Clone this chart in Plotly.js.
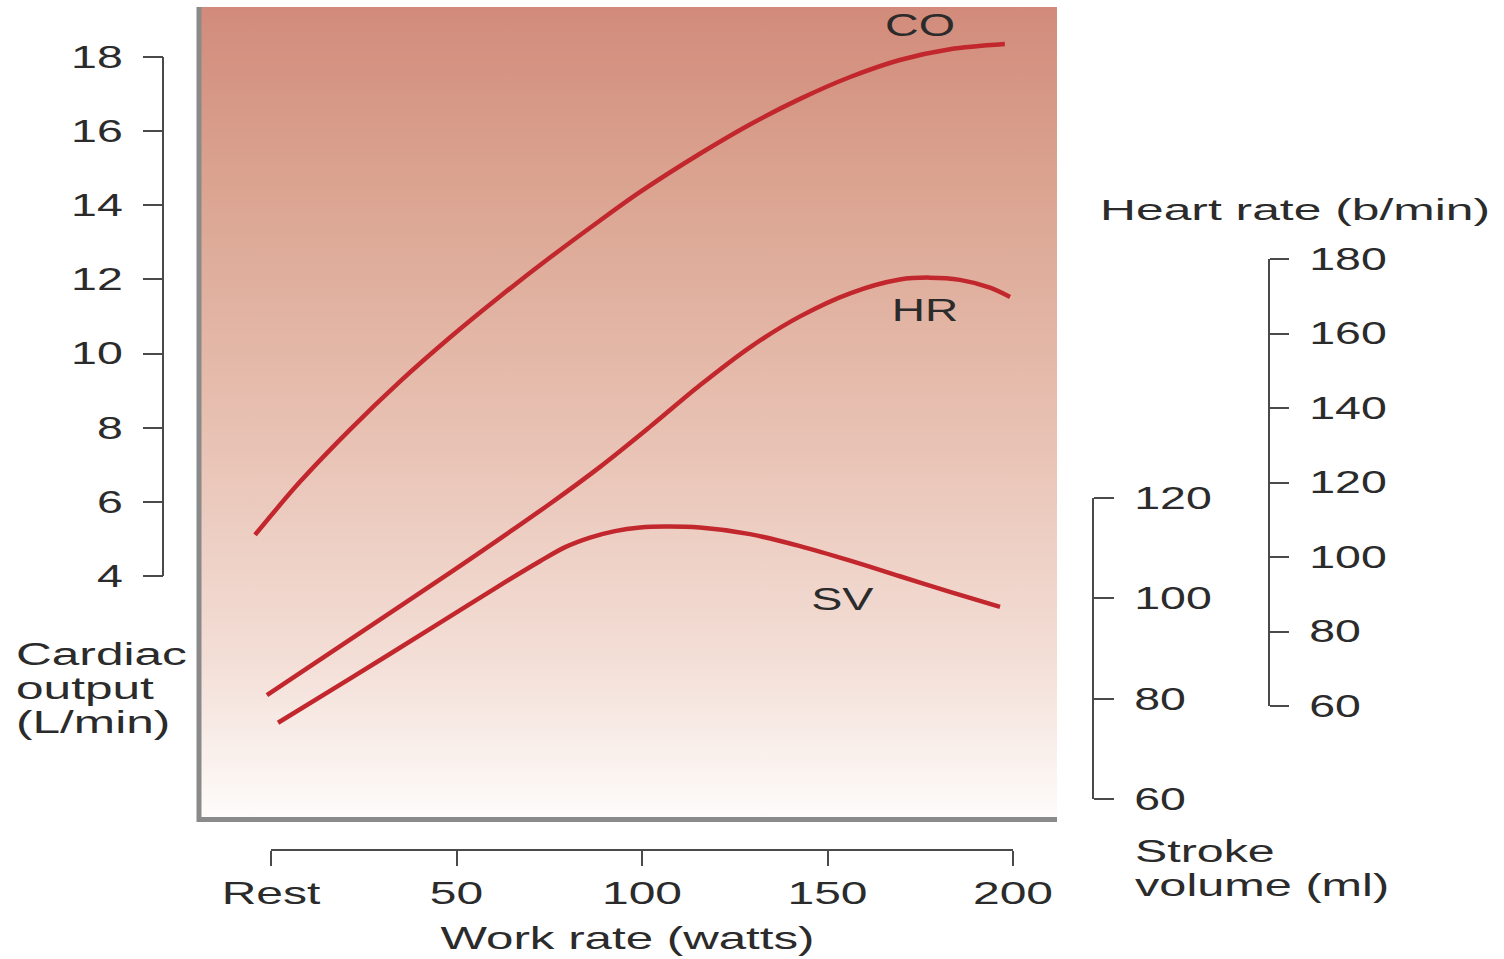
<!DOCTYPE html>
<html>
<head>
<meta charset="utf-8">
<script src="https://cdn.plot.ly/plotly-3.0.1.min.js"></script>
<style>
  html, body { margin: 0; padding: 0; background: #ffffff; }
  #chart { width: 1504px; height: 959px; }
</style>
</head>
<body>
<div id="chart"></div>
<script>
// ---------------- data ----------------
const workTicks  = [0, 50, 100, 150, 200];
const workLabels = ['Rest', '50', '100', '150', '200'];

const coTicks = [4, 6, 8, 10, 12, 14, 16, 18];
const svTicks = [60, 80, 100, 120];
const hrTicks = [60, 80, 100, 120, 140, 160, 180];

// Cardiac output (L/min) vs work rate (watts)
const coWatts  = [-4.3, 7.8, 21.3, 34.8, 48.3, 61.7, 75.2, 88.7, 99.5, 115.6, 129.1, 142.6, 156.1, 169.5, 183.0, 197.8];
const coValues = [5.11, 6.54, 7.95, 9.25, 10.44, 11.54, 12.59, 13.59, 14.36, 15.39, 16.18, 16.87, 17.46, 17.92, 18.21, 18.35];

// Heart rate (b/min)
const hrWatts  = [-1.1, 21.3, 48.3, 75.2, 88.7, 102.2, 115.6, 129.1, 142.6, 156.1, 169.5, 177.6, 185.7, 193.8, 199.2];
const hrValues = [62.9, 77.8, 95.8, 114.3, 124.2, 135.0, 146.1, 156.3, 164.6, 170.8, 174.5, 175.0, 174.4, 172.3, 169.8];

// Stroke volume (ml)
const svWatts  = [1.9, 21.3, 42.9, 61.7, 72.5, 79.3, 86.0, 92.7, 99.5, 106.2, 115.6, 129.1, 142.6, 156.1, 169.5, 183.0, 196.5];
const svValues = [75.2, 84.0, 93.9, 102.6, 107.4, 110.2, 112.1, 113.4, 114.1, 114.3, 114.1, 112.8, 110.4, 107.5, 104.4, 101.3, 98.3];

// ---------------- geometry ----------------
const W = 1504, H = 959;
const L = 200, R = 1057, T = 7, B = 820;
const px = p => p / W;
const py = p => 1 - p / H;
function lin(v1, p1, v2, p2) { return p => v1 + (p - p1) * (v2 - v1) / (p2 - p1); }
const xAt  = lin(0, 271, 200, 1013);
const coAt = lin(18, 57, 4, 576);
const svAt = lin(120, 498, 60, 799);
const hrAt = lin(180, 259, 60, 706);
const xr  = [xAt(L), xAt(R)];
const coR = [coAt(B), coAt(T)];
const svR = [svAt(B), svAt(T)];
const hrR = [hrAt(B), hrAt(T)];

const FONT = 'Liberation Sans, Arial, Helvetica, sans-serif';
const TXT = '#2b2b2b';
const AX = '#4a4a4a';
const RED = '#c1272d';

const bg = {
  x: [xr[0], xr[1], xr[1], xr[0], xr[0]],
  y: [coR[0], coR[0], coR[1], coR[1], coR[0]],
  xaxis: 'x', yaxis: 'y',
  mode: 'lines', line: { width: 0 },
  fill: 'toself',
  fillgradient: {
    type: 'vertical',
    colorscale: [[0, '#fefcfb'], [0.2, '#f3ded6'], [0.5, '#e7bfb0'], [0.8, '#daa28f'], [1, '#d28b7b']]
  },
  hoverinfo: 'skip', showlegend: false
};

const lineStyle = { color: RED, width: 4.5, shape: 'spline', smoothing: 0.9 };
const coTrace = { x: coWatts, y: coValues, xaxis: 'x', yaxis: 'y',  mode: 'lines', line: lineStyle, name: 'CO', hoverinfo: 'skip' };
const svTrace = { x: svWatts, y: svValues, xaxis: 'x', yaxis: 'y2', mode: 'lines', line: lineStyle, name: 'SV', hoverinfo: 'skip' };
const hrTrace = { x: hrWatts, y: hrValues, xaxis: 'x', yaxis: 'y3', mode: 'lines', line: lineStyle, name: 'HR', hoverinfo: 'skip' };

const tickBase = {
  ticks: 'outside', tickwidth: 2, tickcolor: AX,
  showline: false, showgrid: false, zeroline: false, fixedrange: true,
  tickfont: { family: FONT, size: 31, color: TXT }
};

function ann(text, x, y, xanchor, size) {
  return {
    text: text, x: px(x), xref: 'paper', y: py(y), yref: 'paper', showarrow: false,
    xanchor: xanchor, align: xanchor === 'left' ? 'left' : 'center', yanchor: 'middle',
    font: { family: FONT, size: size, color: TXT }
  };
}

const layout = {
  width: W, height: H,
  margin: { l: 0, r: 0, t: 0, b: 0, pad: 0 },
  paper_bgcolor: '#ffffff', plot_bgcolor: 'rgba(0,0,0,0)',
  showlegend: false,
  font: { family: FONT, size: 31, color: TXT },
  xaxis: Object.assign({}, tickBase, {
    domain: [px(L), px(R)], range: xr, anchor: 'free', position: py(850),
    tickmode: 'array', tickvals: workTicks, ticktext: workLabels,
    ticklen: 15, tickangle: 0, ticklabelstandoff: 0,
    tickfont: { family: FONT, size: 32, color: TXT }
  }),
  yaxis: Object.assign({}, tickBase, {
    domain: [py(B), py(T)], range: coR, anchor: 'free', position: px(163), side: 'left',
    tickmode: 'array', tickvals: coTicks, ticklen: 20, ticklabelstandoff: 14
  }),
  yaxis2: Object.assign({}, tickBase, {
    domain: [py(B), py(T)], range: svR, overlaying: 'y', anchor: 'free', position: px(1093), side: 'right',
    tickmode: 'array', tickvals: svTicks, ticklen: 20, ticklabelstandoff: 14
  }),
  yaxis3: Object.assign({}, tickBase, {
    domain: [py(B), py(T)], range: hrR, overlaying: 'y', anchor: 'free', position: px(1269), side: 'right',
    tickmode: 'array', tickvals: hrTicks, ticklen: 19, ticklabelstandoff: 14
  }),
  shapes: [
    // frame of shaded panel
    { type: 'line', xref: 'paper', yref: 'paper', x0: px(199), x1: px(199), y0: py(T), y1: py(822), line: { color: '#8a8a8a', width: 5 } },
    { type: 'line', xref: 'paper', yref: 'paper', x0: px(197), x1: px(R), y0: py(819.5), y1: py(819.5), line: { color: '#8a8a8a', width: 5 } },
    // axis spines
    { type: 'line', xref: 'paper', yref: 'y',  x0: px(163), x1: px(163), y0: 4, y1: 18, line: { color: AX, width: 2 } },
    { type: 'line', xref: 'paper', yref: 'y2', x0: px(1093), x1: px(1093), y0: 60, y1: 120, line: { color: AX, width: 2 } },
    { type: 'line', xref: 'paper', yref: 'y3', x0: px(1269), x1: px(1269), y0: 60, y1: 180, line: { color: AX, width: 2 } },
    { type: 'line', xref: 'x', yref: 'paper', x0: 0, x1: 200, y0: py(850), y1: py(850), line: { color: AX, width: 2 } }
  ],
  annotations: [
    ann('CO', 920, 25, 'center', 32),
    ann('HR', 925, 310, 'center', 32),
    ann('SV', 842, 599, 'center', 32),
    ann('Cardiac', 14, 654, 'left', 31),
    ann('output', 14, 688, 'left', 31),
    ann('(L/min)', 14, 722, 'left', 31),
    ann('Heart rate (b/min)', 1098, 209, 'left', 30),
    ann('Stroke', 1133, 851, 'left', 31),
    ann('volume (ml)', 1133, 885, 'left', 31),
    ann('Work rate (watts)', 627, 938, 'center', 32)
  ]
};

// The reference lettering is horizontally wide; widen glyphs about their anchor point.
const annScale = [1.46, 1.44, 1.46, 1.6, 1.6, 1.6, 1.66, 1.56, 1.57, 1.54];
function widen(el, s) {
  const x = parseFloat(el.getAttribute('x')) || 0;
  const tr = el.getAttribute('transform') || '';
  el.setAttribute('transform', tr + ' translate(' + x + ',0) scale(' + s + ',1) translate(' + (-x) + ',0)');
}
function stretchText(gd) {
  gd.querySelectorAll('g.xtick text, g.ytick text, g.y2tick text, g.y3tick text').forEach(t => widen(t, 1.5));
  gd.querySelectorAll('g.annotation').forEach(g => {
    const i = +g.getAttribute('data-index');
    g.querySelectorAll('text').forEach(t => widen(t, annScale[i] || 1.5));
  });
}

const gd = document.getElementById('chart');
Plotly.newPlot(gd, [bg, coTrace, svTrace, hrTrace], layout, { staticPlot: true, displayModeBar: false })
  .then(() => stretchText(gd));
</script>
</body>
</html>
